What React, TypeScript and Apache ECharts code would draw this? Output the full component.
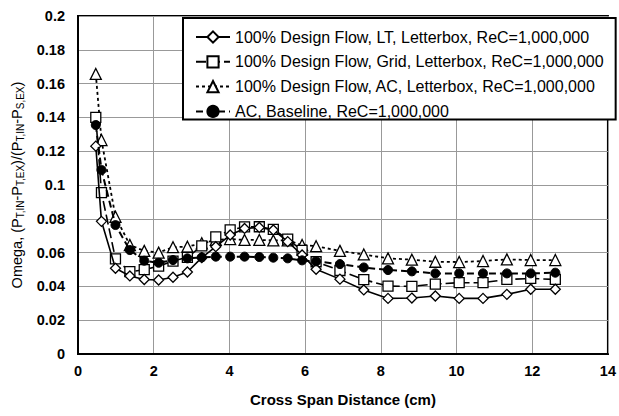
import React, { useEffect, useRef } from "react";
import * as echarts from "echarts";

const xPositions = [0.47, 0.62, 0.99, 1.37, 1.75, 2.13, 2.51, 2.89, 3.27, 3.64, 4.02, 4.4, 4.79, 5.16, 5.54, 5.92, 6.29, 6.92, 7.55, 8.19, 8.82, 9.44, 10.07, 10.7, 11.33, 11.96, 12.61];

const ltLetterbox = [0.123, 0.0785, 0.0507, 0.0462, 0.0441, 0.0438, 0.0454, 0.0485, 0.057, 0.0635, 0.0704, 0.0743, 0.0749, 0.0734, 0.0665, 0.0586, 0.0501, 0.0443, 0.0379, 0.0329, 0.0331, 0.0343, 0.0329, 0.0329, 0.0353, 0.0383, 0.0383];
const gridLetterbox = [0.14, 0.0955, 0.0563, 0.0487, 0.0499, 0.052, 0.055, 0.0572, 0.064, 0.0693, 0.0734, 0.0752, 0.0753, 0.0738, 0.068, 0.0613, 0.0546, 0.0494, 0.044, 0.0402, 0.04, 0.0414, 0.0422, 0.0422, 0.0441, 0.0447, 0.0441];
const acLetterbox = [0.1657, 0.1266, 0.0812, 0.0645, 0.061, 0.06, 0.0632, 0.0635, 0.0655, 0.0675, 0.068, 0.0675, 0.0675, 0.0672, 0.0672, 0.0645, 0.0638, 0.061, 0.0589, 0.0566, 0.0558, 0.0546, 0.0544, 0.055, 0.056, 0.0556, 0.0556];
const acBaseline = [0.1355, 0.1089, 0.0763, 0.0615, 0.0552, 0.054, 0.0556, 0.0566, 0.0572, 0.0576, 0.0576, 0.0576, 0.0574, 0.057, 0.0566, 0.0554, 0.0548, 0.0532, 0.0512, 0.0497, 0.0489, 0.0477, 0.0477, 0.0477, 0.0477, 0.0477, 0.0481];

const seriesNames = [
  "100% Design Flow, LT, Letterbox, ReC=1,000,000",
  "100% Design Flow, Grid, Letterbox, ReC=1,000,000",
  "100% Design Flow, AC, Letterbox, ReC=1,000,000",
  "AC, Baseline, ReC=1,000,000",
];

const FONT = "'Liberation Sans', Arial, sans-serif";

export default function App() {
  const ref = useRef<HTMLDivElement>(null);
  useEffect(() => {
    if (!ref.current) return;
    const chart = echarts.init(ref.current, null, { renderer: "svg" });
    const pair = (vals: number[]) => xPositions.map((x, i) => [x, vals[i]]);
    const hollow = { color: "#fff", borderColor: "#000", borderWidth: 1.3 };
    chart.setOption({
      animation: false,
      backgroundColor: "#fff",
      textStyle: { fontFamily: FONT },
      grid: { left: 78, right: 5, top: 16, bottom: 62, show: true, borderColor: "#000", borderWidth: 2 },
      legend: {
        orient: "vertical",
        left: 183,
        top: 18,
        padding: [11, 12, 0, 12],
        itemGap: 8.8,
        itemWidth: 34,
        itemHeight: 14,
        backgroundColor: "#fff",
        borderColor: "#000",
        borderWidth: 2,
        textStyle: { fontSize: 16, color: "#000", fontFamily: FONT },
        data: seriesNames,
      },
      xAxis: {
        type: "value",
        min: 0,
        max: 14,
        interval: 2,
        name: "Cross Span Distance (cm)",
        nameLocation: "middle",
        nameGap: 38,
        nameTextStyle: { fontSize: 15, fontWeight: "bold", color: "#000" },
        axisLine: { lineStyle: { color: "#000", width: 2 } },
        axisTick: { show: false },
        axisLabel: { fontSize: 14.5, fontWeight: "bold", color: "#000", margin: 9 },
        splitLine: { lineStyle: { color: "#999", width: 1 } },
      },
      yAxis: {
        type: "value",
        min: 0,
        max: 0.2,
        interval: 0.02,
        name: "Omega, (P{s|T,IN}-P{s|T,EX})/(P{s|T,IN}-P{s|S,EX})",
        nameLocation: "middle",
        nameGap: 50,
        nameTextStyle: {
          fontSize: 14.5,
          color: "#000",
          rich: {
            s: { fontSize: 10, color: "#000", padding: [8, 0, 0, 0] },
          },
        },
        axisLine: { show: true, lineStyle: { color: "#000", width: 2 } },
        axisTick: { show: false },
        axisLabel: {
          fontSize: 14.5,
          fontWeight: "bold",
          color: "#000",
          margin: 13,
          formatter: (v: number) => String(+v.toFixed(2)),
        },
        splitLine: { lineStyle: { color: "#999", width: 1 } },
      },
      series: [
        {
          name: seriesNames[0],
          type: "line",
          data: pair(ltLetterbox),
          symbol: "diamond",
          symbolSize: [10, 10],
          itemStyle: hollow,
          lineStyle: { color: "#000", width: 1.6, type: "solid" },
          z: 5,
        },
        {
          name: seriesNames[1],
          type: "line",
          data: pair(gridLetterbox),
          symbol: "rect",
          symbolSize: 10,
          itemStyle: hollow,
          lineStyle: { color: "#000", width: 1.6, type: [10, 4] },
          z: 4,
        },
        {
          name: seriesNames[2],
          type: "line",
          data: pair(acLetterbox),
          symbol: "triangle",
          symbolSize: 11,
          itemStyle: hollow,
          lineStyle: { color: "#000", width: 1.8, type: [3, 3] },
          z: 3,
        },
        {
          name: seriesNames[3],
          type: "line",
          data: pair(acBaseline),
          symbol: "circle",
          symbolSize: 9,
          itemStyle: { color: "#000", borderColor: "#000", borderWidth: 1 },
          lineStyle: { color: "#000", width: 2, type: [7, 4] },
          z: 6,
        },
      ],
    });
    return () => chart.dispose();
  }, []);
  return <div ref={ref} style={{ width: 619, height: 416, position: "absolute", left: 0, top: 0 }} />;
}
